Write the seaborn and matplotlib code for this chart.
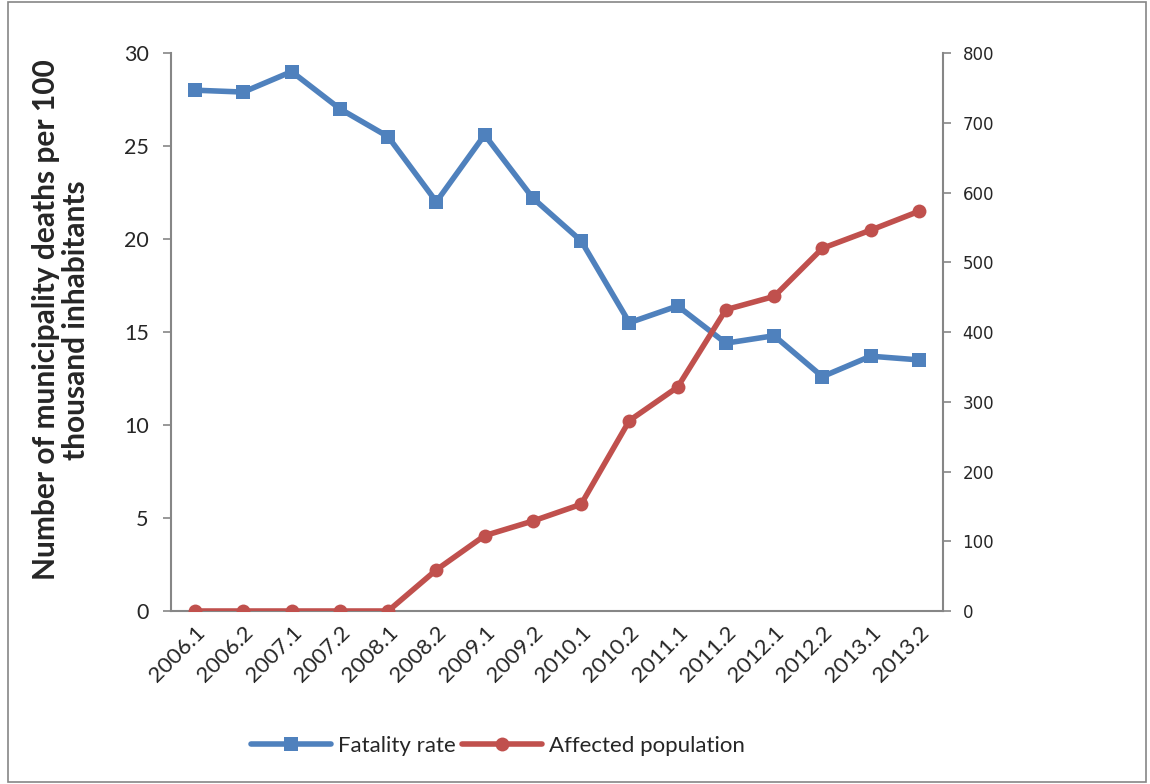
import pandas as pd
import numpy as np
import matplotlib
matplotlib.use("Agg")
import matplotlib.pyplot as plt
import seaborn as sns
from matplotlib.patches import Rectangle
from matplotlib.lines import Line2D

# half-year periods on the x axis
periods = ["2006.1", "2006.2", "2007.1", "2007.2", "2008.1", "2008.2",
           "2009.1", "2009.2", "2010.1", "2010.2", "2011.1", "2011.2",
           "2012.1", "2012.2", "2013.1", "2013.2"]

# deaths per 100 thousand inhabitants (left axis)
fatality_rate = [28.0, 27.9, 29.0, 27.0, 25.5, 22.0, 25.6, 22.2,
                 19.9, 15.5, 16.4, 14.4, 14.8, 12.6, 13.7, 13.5]

# affected population (right axis)
affected_pop = [0, 0, 0, 0, 0, 59, 108, 129,
                153, 273, 321, 432, 451, 520, 546, 573]

left_ticks = [0, 5, 10, 15, 20, 25, 30]
right_ticks = [0, 100, 200, 300, 400, 500, 600, 700, 800]

df = pd.DataFrame({"period": periods,
                   "fatality": fatality_rate,
                   "affected": affected_pop})

sns.set_style("white")
plt.rcParams["font.family"] = ["Lato", "DejaVu Sans"]

blue = "#4F81BD"
red = "#C0504D"
grey = "#868686"

fig = plt.figure(figsize=(11.5, 7.84), dpi=100)
ax = fig.add_axes([171 / 1150, 1 - 611 / 784, (943 - 171) / 1150, (611 - 53) / 784])
ax2 = ax.twinx()

sns.lineplot(data=df, x="period", y="fatality", ax=ax, color=blue, lw=4,
             marker="s", markersize=10, markeredgewidth=0, sort=False)
sns.lineplot(data=df, x="period", y="affected", ax=ax2, color=red, lw=4,
             marker="o", markersize=10, markeredgewidth=0, sort=False)

ax.set_xlim(-0.5, len(periods) - 0.5)
ax.set_ylim(0, 30)
ax.set_yticks(left_ticks)
ax2.set_ylim(0, 800)
ax2.set_yticks(right_ticks)

ax.set_xlabel("")
ax.set_ylabel("")
ax2.set_ylabel("")

# tick marks sit between categories, like Excel
ax.set_xticks(np.arange(len(periods)))
ax.set_xticklabels(periods, rotation=45, ha="right", rotation_mode="anchor",
                   fontsize=16)
ax.set_xticks(np.arange(-0.5, len(periods)), minor=True)
ax.tick_params(axis="x", which="major", length=0, pad=8)
ax.tick_params(axis="x", which="minor", length=6, color=grey, width=1.2,
               direction="out")
ax.tick_params(axis="y", length=6, color=grey, width=1.2, direction="out",
               labelsize=15.5, pad=10)
ax2.tick_params(axis="y", length=6, color=grey, width=1.2, direction="out",
                labelsize=12, pad=8)
for lab in ax2.get_yticklabels():
    lab.set_fontfamily("DejaVu Sans")

for a in (ax, ax2):
    a.spines["top"].set_visible(False)
    for s in ("left", "right", "bottom"):
        a.spines[s].set_color(grey)
        a.spines[s].set_linewidth(1.5)
    a.grid(False)
ax.spines["right"].set_visible(False)
ax2.spines["left"].set_visible(False)
ax2.spines["bottom"].set_visible(False)

fig.text(61 / 1150, 1 - 320 / 784,
         "Number of municipality deaths per 100\nthousand inhabitants",
         rotation=90, ha="center", va="center", multialignment="center",
         fontsize=21.5, fontweight="bold", linespacing=1.12)

handles = [Line2D([], [], color=blue, lw=4, marker="s", markersize=10,
                  markeredgewidth=0),
           Line2D([], [], color=red, lw=4, marker="o", markersize=10,
                  markeredgewidth=0)]
fig.legend(handles, ["Fatality rate", "Affected population"], loc="center",
           bbox_to_anchor=(498 / 1150, 1 - 746 / 784), ncol=2, frameon=False,
           fontsize=16, handlelength=3.6, columnspacing=0.3, handletextpad=0.3)

# outer chart border
fig.patches.append(Rectangle((8 / 1150, 0.002), 1138 / 1150, 0.995,
                             transform=fig.transFigure, fill=False,
                             edgecolor=grey, lw=1.2))

fig.savefig("out.png", dpi=100)
